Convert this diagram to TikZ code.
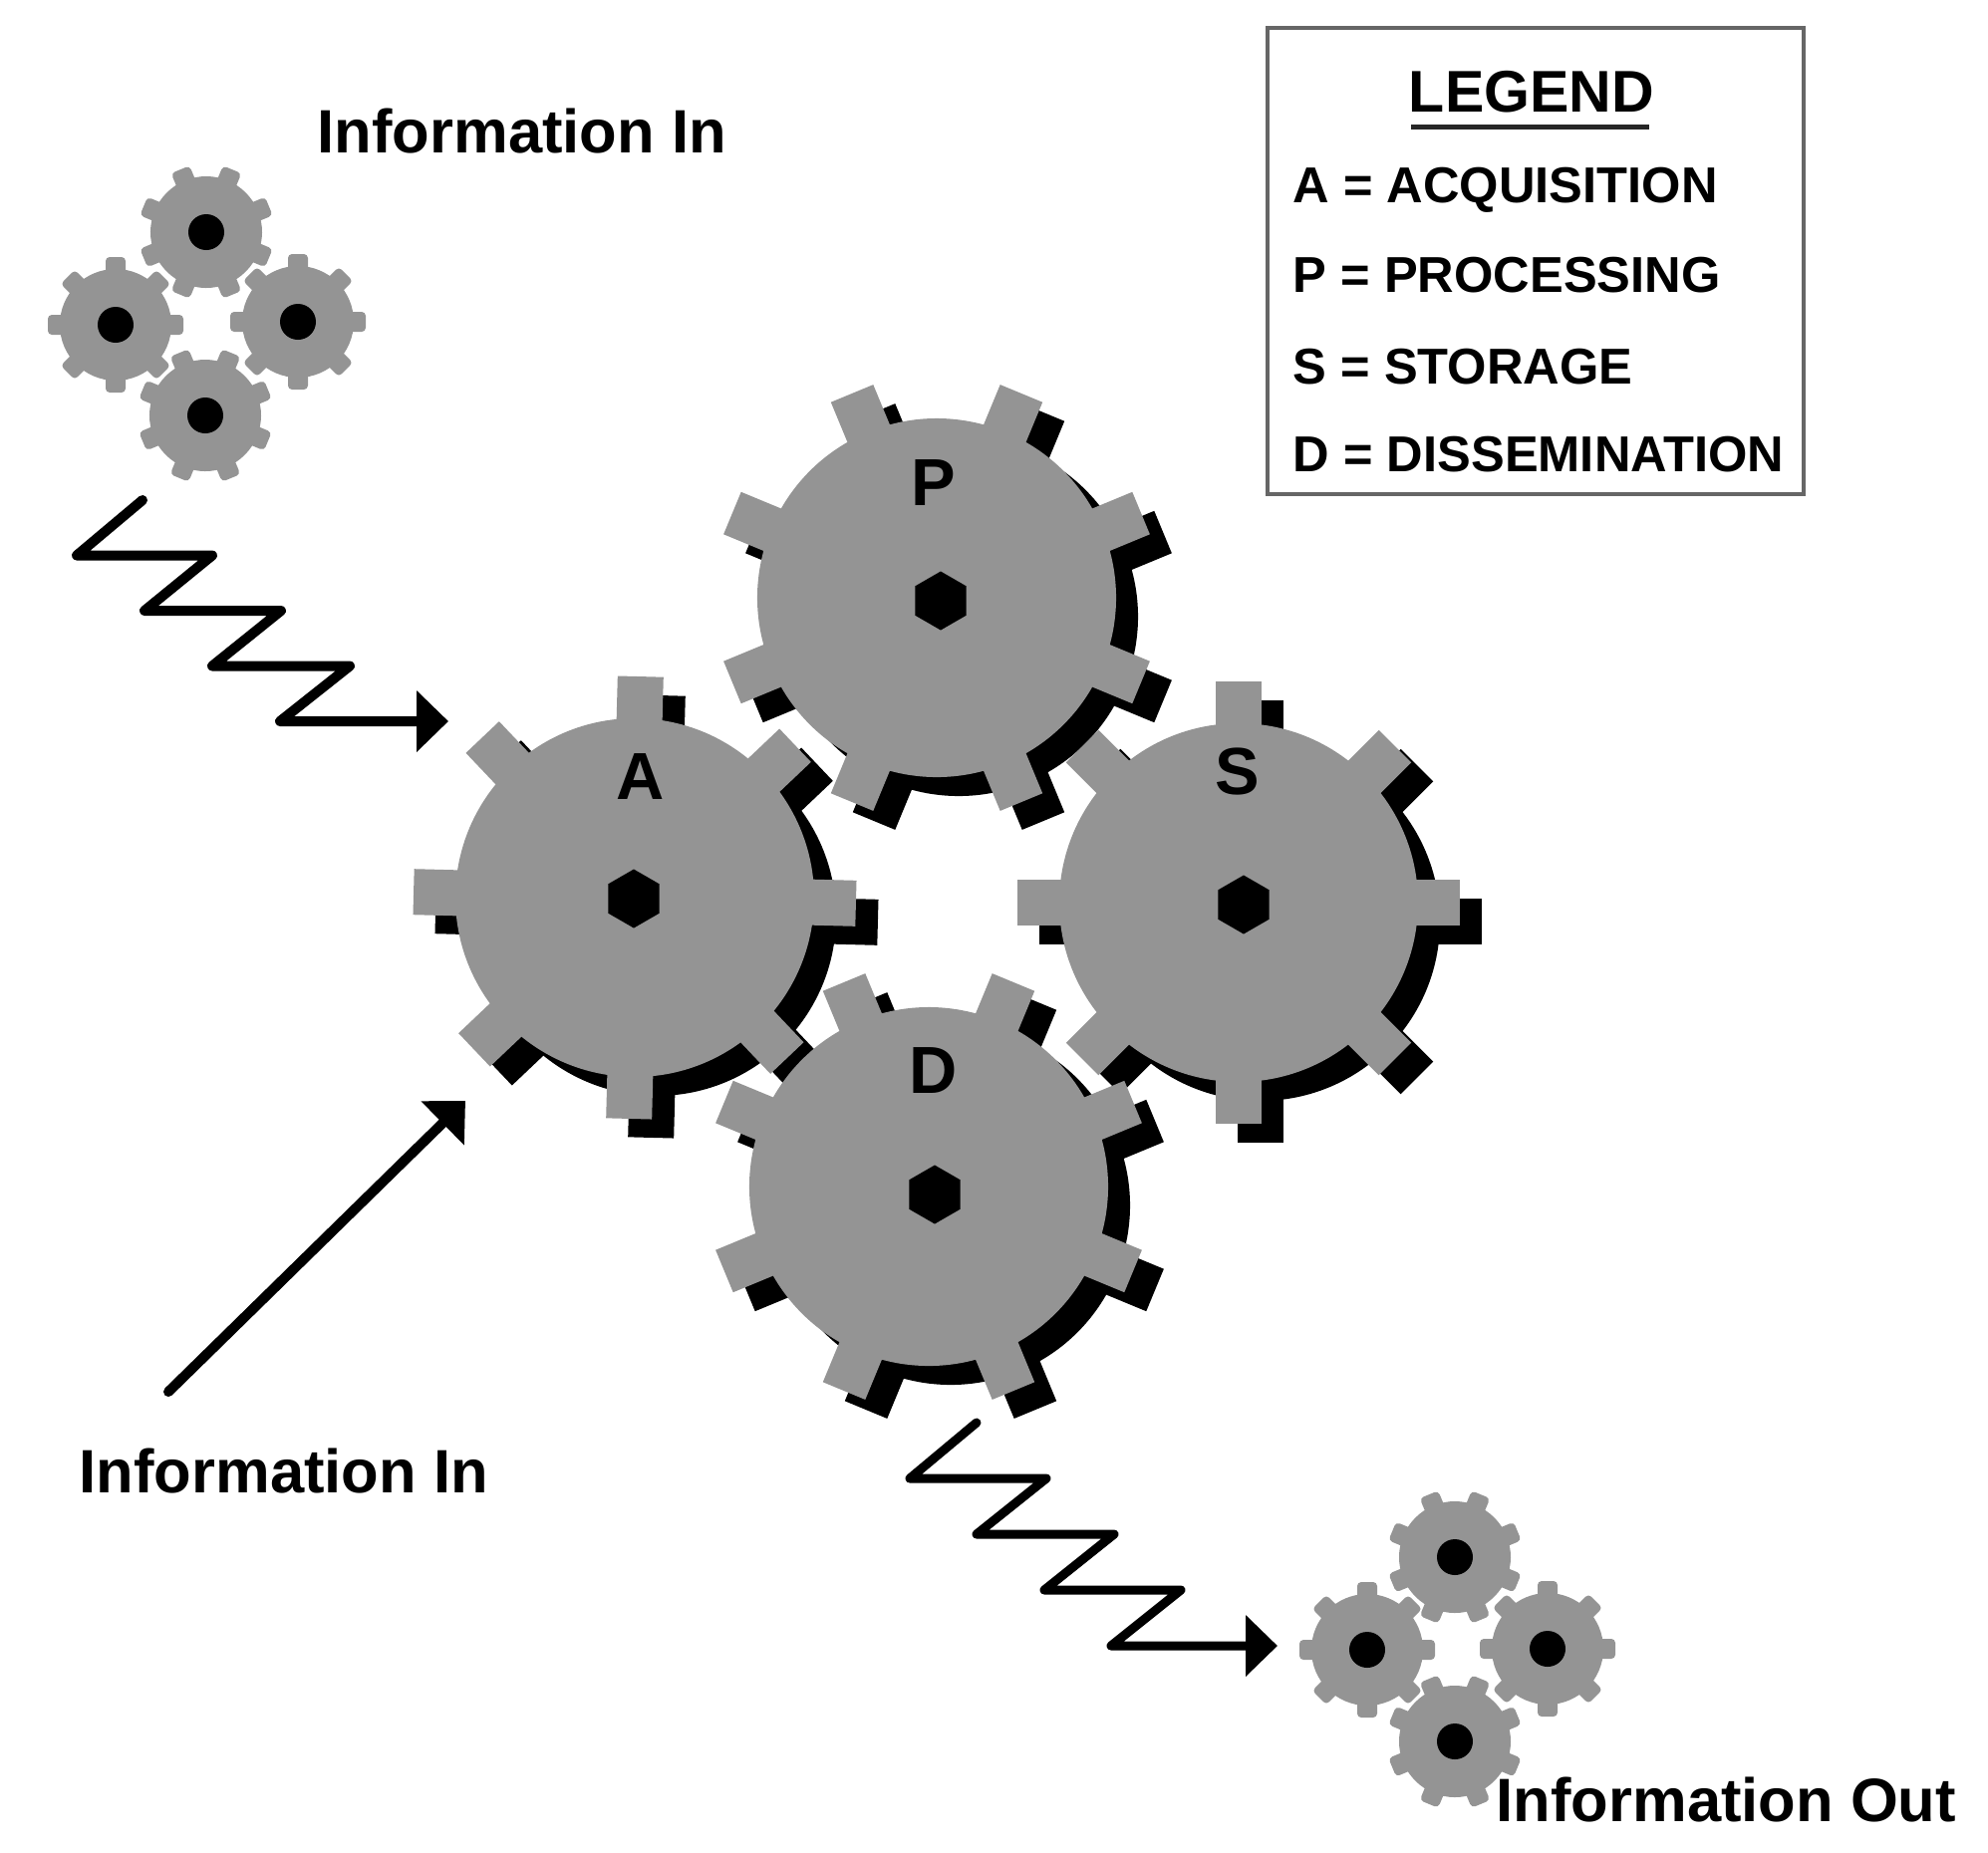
\documentclass[tikz,border=0pt]{standalone}
\usepackage{fontspec}
\setmainfont{Liberation Sans}
\usetikzlibrary{arrows.meta,calc,shapes.geometric}
\definecolor{gearc}{gray}{0.58}
\def\gear[#1](#2)(#3:#4:#5:#6){%
	\begin{scope}[shift={(#2)},rotate=#3]
		\fill[#1] (0,0) circle (#4);
		\foreach \a in {0,45,...,315}
			\fill[#1,rotate=\a] (0,-#6) rectangle (#5,#6);
	\end{scope}}
\def\biggear(#1)(#2){%
	\gear[fill=black]($(#1)+(22,19)$)(#2:180:222:23)
	\gear[fill=gearc](#1)(#2:180:222:23)}
\tikzset{
	smallgear/.style={fill=gearc,rounded corners=0.4mm},
	bighub/.style={regular polygon,regular polygon sides=6,regular polygon rotate=30,fill=black,inner sep=0pt,minimum size=5.9mm},
	smallhub/.style={circle,fill=black,inner sep=0pt,minimum size=3.6mm},
	gearletter/.style={anchor=base,inner sep=0pt,font=\fontsize{19pt}{22pt}\selectfont\bfseries},
	biglabel/.style={anchor=base west,inner sep=0pt,font=\fontsize{17.5pt}{20pt}\selectfont\bfseries},
	legendline/.style={anchor=base west,inner sep=0pt,font=\fontsize{14.4pt}{17pt}\selectfont\bfseries},
	zigline/.style={line width=1mm,line join=round,line cap=round,-{Triangle[length=3.2mm,width=6mm]}},
}
\begin{document}
\begin{tikzpicture}[x=0.1mm,y=-0.1mm]
	%%%%% START %%%%%
	\useasboundingbox (0,0) rectangle (1995,1859);

	% small gears, top left
	\gear[smallgear](207,233)(22.5:56:68:10)
	\gear[smallgear](116,326)(0:56:68:10)
	\gear[smallgear](299,323)(0:56:68:10)
	\gear[smallgear](206,417)(22.5:56:68:10)
	\node[smallhub] (hubtop) at (207,233) {};
	\node[smallhub] (hubleft) at (116,326) {};
	\node[smallhub] (hubright) at (299,323) {};
	\node[smallhub] (hubbottom) at (206,417) {};

	% small gears, bottom right
	\gear[smallgear](1460,1563)(22.5:56:68:10)
	\gear[smallgear](1372,1656)(0:56:68:10)
	\gear[smallgear](1553,1655)(0:56:68:10)
	\gear[smallgear](1460,1748)(22.5:56:68:10)
	\node[smallhub] (outtop) at (1460,1563) {};
	\node[smallhub] (outleft) at (1372,1656) {};
	\node[smallhub] (outright) at (1553,1655) {};
	\node[smallhub] (outbottom) at (1460,1748) {};

	% big gears
	\coordinate (gearP) at (940,600);
	\coordinate (gearA) at (637,901);
	\coordinate (gearS) at (1243,906);
	\coordinate (gearD) at (932,1191);
	\biggear(gearP)(22.5)
	\biggear(gearA)(-1.5)
	\biggear(gearS)(0)
	\biggear(gearD)(22.5)
	\node[bighub] (hubP) at (944,603) {};
	\node[bighub] (hubA) at (636,902) {};
	\node[bighub] (hubS) at (1248,908) {};
	\node[bighub] (hubD) at (938,1199) {};
	\node[gearletter] (lblP) at (937,507) {P};
	\node[gearletter] (lblA) at (643,802) {A};
	\node[gearletter] (lblS) at (1242,797) {S};
	\node[gearletter] (lblD) at (937,1097) {D};

	% arrows
	\coordinate (zigAfrom) at (143,502);
	\coordinate (zigAto) at (450,724);
	\coordinate (zigDfrom) at (980,1428);
	\coordinate (zigDto) at (1282,1652);
	\coordinate (lineAfrom) at (169,1397);
	\coordinate (lineAto) at (467,1105);
	\draw[zigline] (zigAfrom) -- ++(-66,55.5) -- ++(136,0) -- ++(-68,55.5) -- ++(137,0) -- ++(-69,55.5) -- ++(138,0) -- ++(-70,55.5) -- (zigAto);
	\draw[zigline,line width=0.9mm] (zigDfrom) -- ++(-67,56) -- ++(137,0) -- ++(-70,56) -- ++(138,0) -- ++(-70,56) -- ++(137,0) -- ++(-70,56) -- (zigDto);
	\draw[zigline] (lineAfrom) -- (lineAto);

	% labels
	\node[biglabel] (intop) at (318,153) {Information In};
	\node[biglabel] (inbottom) at (79,1498) {Information In};
	\node[biglabel] (outlabel) at (1501,1828) {Information Out};

	% legend
	\draw[line width=0.4mm,color=black!60] (1272,28) rectangle (1810,496);
	\node[anchor=base,inner sep=0pt,font=\fontsize{16.8pt}{20pt}\selectfont\bfseries] (legtitle) at (1537,112) {LEGEND};
	\draw[line width=0.5mm,color=black!85] (1416,127) -- (1655,127);
	\node[legendline] (legA) at (1297,203) {A = ACQUISITION};
	\node[legendline] (legP) at (1297,293) {P = PROCESSING};
	\node[legendline] (legS) at (1297,385) {S = STORAGE};
	\node[legendline] (legD) at (1297,473) {D = DISSEMINATION};
	%%%%% END %%%%%
\end{tikzpicture}
\end{document}
